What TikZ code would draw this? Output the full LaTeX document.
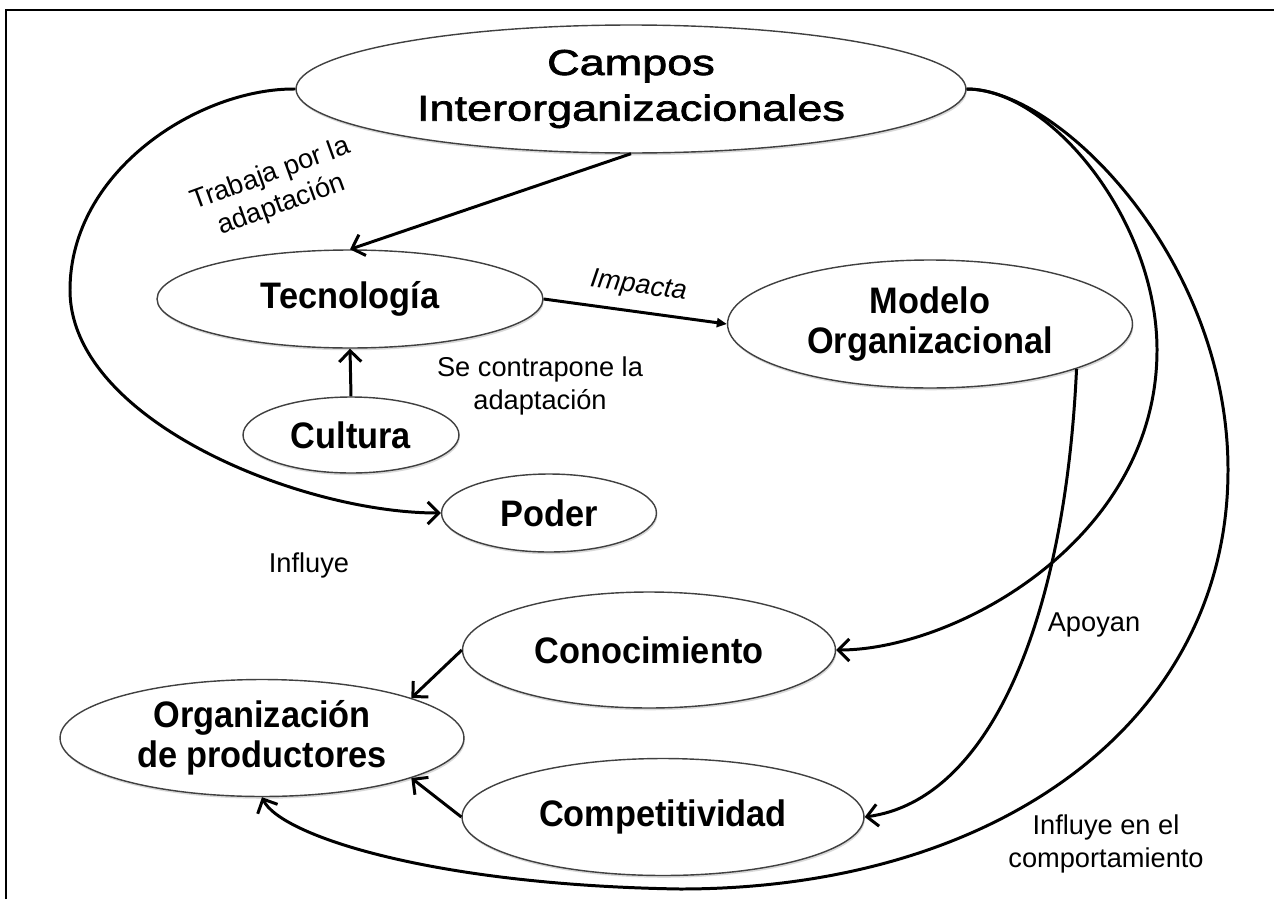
\documentclass[tikz,border=0pt]{standalone}
\usepackage{fontspec}
\setmainfont{Liberation Sans}
\newfontfamily\nodefont[FakeStretch=0.93]{Liberation Sans}
\newfontfamily\widefont[FakeStretch=1.25,FakeBold=2]{Liberation Sans}
\usetikzlibrary{shapes.geometric,arrows.meta,shadows}
\begin{document}
\begin{tikzpicture}[x=0.02cm,y=-0.02cm,
  elli/.style={ellipse,draw=black!75,line width=0.8pt,fill=white,inner sep=0pt,align=center,
    font=\nodefont\fontsize{21}{23}\selectfont\bfseries,
    drop shadow={shadow xshift=0.5pt,shadow yshift=-1.3pt,opacity=0.3}},
  conn/.style={line width=1.7pt,-{Straight Barb[length=2.2mm,width=4.4mm]}},
  lbl/.style={align=center,font=\fontsize{15.5}{18.5}\selectfont}]
\useasboundingbox (0,0) rectangle (1274,899);
\draw[line width=1.4pt] (6,899) -- (6,10) -- (1274,10);
\node[elli,minimum width=13.4cm,minimum height=2.56cm,font=\widefont\fontsize{20.5}{26}\selectfont] (campos) at (631,89) {Campos\\Interorganizacionales};
\node[elli,minimum width=7.72cm,minimum height=1.96cm] (tec) at (350,299) {Tecnología};
\node[elli,minimum width=8.1cm,minimum height=2.56cm] (modelo) at (930,324) {Modelo\\Organizacional};
\node[elli,minimum width=4.32cm,minimum height=1.52cm] (cult) at (351,435) {Cultura};
\node[elli,minimum width=4.3cm,minimum height=1.56cm] (poder) at (549,513) {Poder};
\node[elli,minimum width=7.46cm,minimum height=2.32cm] (conoc) at (649,650) {Conocimiento};
\node[elli,minimum width=8.08cm,minimum height=2.34cm] (org) at (262,738) {Organización\\de productores};
\node[elli,minimum width=8.04cm,minimum height=2.34cm] (compet) at (663,817) {Competitividad};
\node[lbl,rotate=20] (trabaja) at (276,190) {Trabaja por la\\adaptación};
\node[lbl] (contrapone) at (540,386) {Se contrapone la\\adaptación};
\node[lbl] (influye) at (309,565) {Influye};
\node[lbl] (apoyan) at (1094,625) {Apoyan};
\node[lbl] (comport) at (1106,844) {Influye en el\\comportamiento};
\draw[conn] (campos.south) -- (tec.north);
\draw[conn] (cult.north) -- (tec.south);
\draw[line width=1.7pt,-{Triangle[length=2mm,width=1.8mm]}] (tec.east) -- node[lbl,sloped,above=3pt,font=\fontsize{15.5}{18.5}\selectfont\itshape] (impacta) {Impacta} (modelo.west);
\draw[conn] (campos.west) .. controls (200,88) and (70,170) .. (70,290) .. controls (70,420) and (300,513) .. (poder.west);
\draw[conn] (campos.east) .. controls (1050,89) and (1157,220) .. (1157,350) .. controls (1157,540) and (955,650) .. (conoc.east);
\draw[conn] (campos.east) .. controls (1060,89) and (1228,260) .. (1228,470) .. controls (1228,720) and (1000,889) .. (680,889) .. controls (430,885) and (280,835) .. (org.south);
\draw[conn] (modelo.-17) .. controls (1065,620) and (990,800) .. (compet.east);
\draw[conn] (conoc.west) -- (org.15);
\draw[conn] (compet.west) -- (org.-15);
\end{tikzpicture}
\end{document}
